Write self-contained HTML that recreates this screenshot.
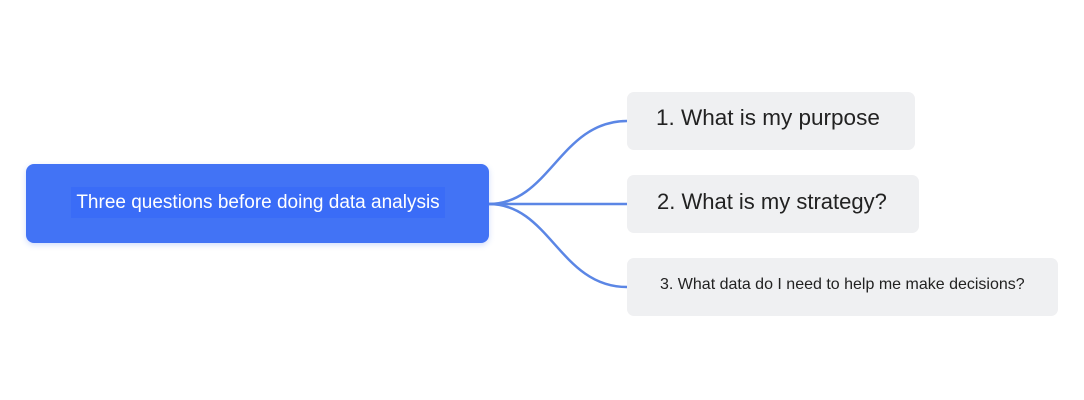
<!DOCTYPE html>
<html><head><style>
body{margin:0;width:1084px;height:400px;background:#fff;position:relative;overflow:hidden;font-family:"Liberation Sans",sans-serif}
.root{position:absolute;left:26px;top:164px;width:463px;height:79px;background:#4273f5;border-radius:8px;box-shadow:0 2px 6px rgba(66,115,245,.25)}
.rt{position:absolute;left:71px;top:187px;width:374px;height:31px;background:#3a6cf7;color:#fff;font-size:19px;line-height:31px;text-align:center}
.c{position:absolute;left:627px;height:58px;background:#eff0f2;border-radius:7px;color:#222}
.t{position:absolute;white-space:nowrap;color:#222}
</style></head><body>
<svg width="1084" height="400" style="position:absolute;left:0;top:0">
<g fill="none" stroke="#5b86e5" stroke-width="2.5">
<path d="M489 204 C550 204 560 121 627 121"/>
<path d="M489 204 L627 204"/>
<path d="M489 204 C550 204 560 287 627 287"/>
</g></svg>
<div class="root"></div>
<div class="rt">Three questions before doing data analysis</div>
<div class="c" style="top:92px;width:288px"></div>
<div class="c" style="top:175px;width:292px"></div>
<div class="c" style="top:258px;width:431px"></div>
<div class="t" style="left:656px;top:104px;font-size:22.5px;line-height:28px">1. What is my purpose</div>
<div class="t" style="left:657px;top:188px;font-size:22px;line-height:28px">2. What is my strategy?</div>
<div class="t" style="left:660px;top:275px;font-size:16px;line-height:20px">3. What data do I need to help me make decisions?</div>
</body></html>
